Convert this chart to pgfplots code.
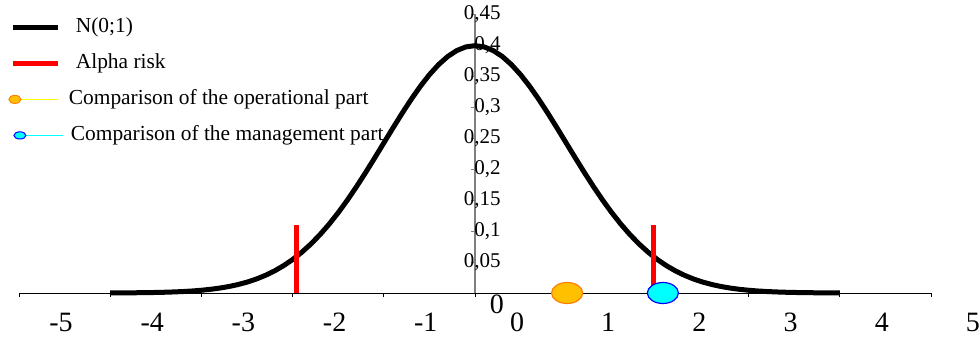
\documentclass[border=0pt]{standalone}
\usepackage{fontspec}
\setmainfont{Liberation Serif}
\usepackage{pgfplots}
\pgfplotsset{compat=1.18}
\definecolor{gold}{HTML}{FFC000}
\definecolor{orangeb}{HTML}{FF7F00}
\definecolor{axgray}{HTML}{808080}
\definecolor{cyanx}{HTML}{00FFFF}
\definecolor{bluex}{HTML}{0000FF}
\definecolor{yellowx}{HTML}{FFFF00}
\begin{document}
\begin{tikzpicture}
\path[use as bounding box] (-9.5pt,-22.5pt) rectangle (480.5pt,146.5pt);
\begin{axis}[
  at={(0pt,0pt)}, anchor=south west,
  scale only axis, width=456pt, height=139.5pt,
  xmin=-5, xmax=5, ymin=0, ymax=0.45,
  axis lines=middle,
  axis line style={-},
  x axis line style={black, line width=0.5pt},
  y axis line style={axgray, line width=0.8pt},
  hide obscured x ticks=false, hide obscured y ticks=false,
  clip=false,
  tick align=outside,
  major tick length=2pt,
  xtick={-5,-4,-3,-2,-1,0,1,2,3,4,5},
  xticklabels={-5,-4,-3,-2,-1,0,1,2,3,4,5},
  x tick style={black, line width=0.4pt},
  xticklabel style={font=\fontsize{14}{16}\selectfont, anchor=center, inner sep=0pt, xshift=21pt, yshift=-12.5pt},
  ytick={0.05,0.1,0.15,0.2,0.25,0.3,0.35,0.4,0.45},
  yticklabels={{0,05},{0,1},{0,15},{0,2},{0,25},{0,3},{0,35},{0,4},{0,45}},
  y tick style={axgray, line width=0.5pt},
  yticklabel style={font=\fontsize{10.5}{12}\selectfont, anchor=east, inner sep=0pt, xshift=15pt},
  legend style={draw=none, fill=none, inner sep=0pt, at={(axis description cs:0,1)}, anchor=north west, xshift=-5.5pt, yshift=-2pt, font=\fontsize{10.7}{12}\selectfont, row sep=9pt, column sep=0pt, nodes={inner sep=0pt, text height=7pt, text depth=2pt}},
  legend cell align=left,
]
\addplot[black, line width=2.5pt, forget plot] coordinates {
(-4.0,0.00013) (-3.9,0.00020) (-3.8,0.00029) (-3.7,0.00042) (-3.6,0.00061)
(-3.5,0.00087) (-3.4,0.00123) (-3.3,0.00172) (-3.2,0.00238) (-3.1,0.00327)
(-3.0,0.00443) (-2.9,0.00595) (-2.8,0.00792) (-2.7,0.01042) (-2.6,0.01358)
(-2.5,0.01753) (-2.4,0.02239) (-2.3,0.02833) (-2.2,0.03547) (-2.1,0.04398)
(-2.0,0.05399) (-1.9,0.06562) (-1.8,0.07895) (-1.7,0.09405) (-1.6,0.11092)
(-1.5,0.12952) (-1.4,0.14973) (-1.3,0.17137) (-1.2,0.19419) (-1.1,0.21785)
(-1.0,0.24197) (-0.9,0.26609) (-0.8,0.28969) (-0.7,0.31225) (-0.6,0.33322)
(-0.5,0.35207) (-0.4,0.36827) (-0.3,0.38139) (-0.2,0.39104) (-0.1,0.39695)
(0.0,0.39894)
(0.1,0.39695) (0.2,0.39104) (0.3,0.38139) (0.4,0.36827) (0.5,0.35207)
(0.6,0.33322) (0.7,0.31225) (0.8,0.28969) (0.9,0.26609) (1.0,0.24197)
(1.1,0.21785) (1.2,0.19419) (1.3,0.17137) (1.4,0.14973) (1.5,0.12952)
(1.6,0.11092) (1.7,0.09405) (1.8,0.07895) (1.9,0.06562) (2.0,0.05399)
(2.1,0.04398) (2.2,0.03547) (2.3,0.02833) (2.4,0.02239) (2.5,0.01753)
(2.6,0.01358) (2.7,0.01042) (2.8,0.00792) (2.9,0.00595) (3.0,0.00443)
(3.1,0.00327) (3.2,0.00238) (3.3,0.00172) (3.4,0.00123) (3.5,0.00087)
(3.6,0.00061) (3.7,0.00042) (3.8,0.00029) (3.9,0.00020) (4.0,0.00013)
};
\addplot[red, line width=2.5pt, forget plot] coordinates {(-1.96,0) (-1.96,0.11)};
\addplot[red, line width=2.5pt, forget plot] coordinates {(1.96,0) (1.96,0.11)};
\addplot[only marks, mark=*, mark size=5.25pt, mark options={xscale=1.48, fill=gold, draw=orangeb, line width=0.6pt}, forget plot] coordinates {(1.01,0)};
\addplot[only marks, mark=*, mark size=5.25pt, mark options={xscale=1.48, fill=cyanx, draw=bluex, line width=0.6pt}, forget plot] coordinates {(2.06,0)};
\node[font=\fontsize{14}{16}\selectfont, inner sep=0pt] at (axis cs:0.24,0) [yshift=-5.5pt] {0};
\addlegendimage{legend image code/.code={\draw[black, line width=2.5pt] (0pt,0pt) -- (22.5pt,0pt); \path[draw=none, fill=none] (0pt,0pt) -- (28pt,0pt);}}
\addlegendentry{\hspace{3.5pt}N(0;1)}
\addlegendimage{legend image code/.code={\draw[red, line width=2.5pt] (0pt,0pt) -- (22.5pt,0pt); \path[draw=none, fill=none] (0pt,0pt) -- (28pt,0pt);}}
\addlegendentry{\hspace{3.5pt}Alpha risk}
\addlegendimage{legend image code/.code={\draw[yellowx, line width=0.6pt] (2pt,0pt) -- (22.5pt,0pt); \draw[fill=gold, draw=orangeb, line width=0.5pt] (1pt,0pt) ellipse (3pt and 2pt); \path[draw=none, fill=none] (0pt,0pt) -- (28pt,0pt);}}
\addlegendentry{Comparison of the operational part}
\addlegendimage{legend image code/.code={\draw[cyanx, line width=0.6pt] (5pt,0pt) -- (25pt,0pt); \draw[fill=cyanx, draw=bluex, line width=0.5pt] (3.5pt,0pt) ellipse (3pt and 1.8pt); \path[draw=none, fill=none] (0pt,0pt) -- (28pt,0pt);}}
\addlegendentry{\hspace{1pt}Comparison of the management part}
\end{axis}
\end{tikzpicture}
\end{document}
